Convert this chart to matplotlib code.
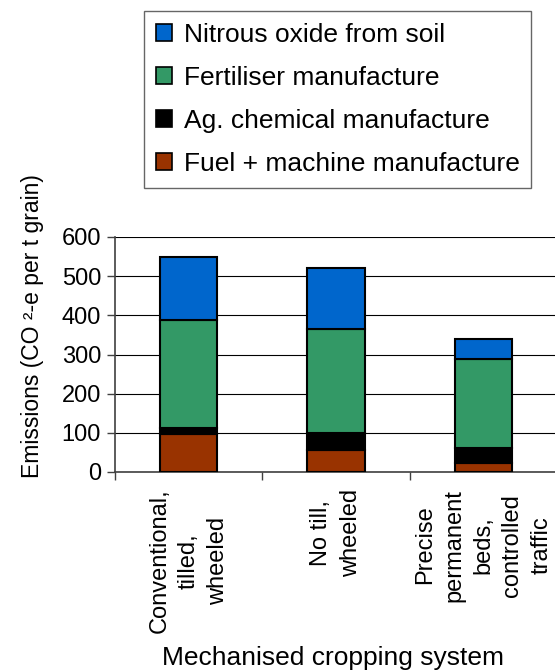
import matplotlib
matplotlib.use("Agg")
import matplotlib.pyplot as plt
from matplotlib.patches import Patch
import numpy as np

plt.rcParams["font.family"] = ["Liberation Sans", "DejaVu Sans"]

# 数据
systems = ["Conventional,\ntilled,\nwheeled",
           "No till,\nwheeled",
           "Precise\npermanent\nbeds,\ncontrolled\ntraffic"]
fuel_machine = [97, 57, 24]
ag_chemical = [15, 43, 37]
fertiliser = [275, 265, 227]
nitrous_oxide = [162, 157, 51]

series_names = ["Fuel + machine manufacture", "Ag. chemical manufacture",
                "Fertiliser manufacture", "Nitrous oxide from soil"]
series_colors = ["#993300", "#000000", "#339966", "#0066CC"]
y_ticks = [0, 100, 200, 300, 400, 500, 600]

fig = plt.figure(figsize=(5.55, 6.7), dpi=100)
W, H = 555, 670
ax = fig.add_axes([115 / W, 1 - 472 / H, 442 / W, 235 / H])

x = np.arange(len(systems))
bottom = np.zeros(len(systems))
for vals, name, col in zip([fuel_machine, ag_chemical, fertiliser, nitrous_oxide],
                           series_names, series_colors):
    ax.bar(x, vals, width=0.39, bottom=bottom, color=col,
           edgecolor="black", linewidth=1.5, label=name, zorder=3)
    bottom += np.array(vals)

ax.set_xlim(-0.5, 2.5)
ax.set_ylim(0, 600)
ax.set_yticks(y_ticks)
ax.tick_params(axis="y", labelsize=17, length=6, width=1, color="#404040", pad=4)
ax.yaxis.grid(True, color="black", linewidth=0.8, zorder=0)
ax.set_axisbelow(True)

ax.set_xticks(x)
ax.set_xticklabels(systems, rotation=90, va="top", ha="center",
                   multialignment="center", linespacing=1.42, fontsize=17)
ax.tick_params(axis="x", length=0, pad=12)
ax.set_xticks([-0.5, 0.5, 1.5], minor=True)
ax.tick_params(axis="x", which="minor", length=6, width=1, color="#404040")

for s in ["top", "right"]:
    ax.spines[s].set_visible(False)
for s in ["left", "bottom"]:
    ax.spines[s].set_color("#404040")
    ax.spines[s].set_linewidth(1.2)

fig.text(33 / W, 1 - 174 / H, "Emissions (CO ²-e per t grain)", rotation=90,
         ha="center", va="top", fontsize=16.5)
fig.text(333 / W, 1 - 665 / H, "Mechanised cropping system",
         ha="center", va="baseline", fontsize=19)

handles = [Patch(facecolor=c, edgecolor="black", linewidth=1.2)
           for c in series_colors][::-1]
leg = fig.legend(handles, series_names[::-1], loc="upper left",
                 bbox_to_anchor=(144 / W, 1 - 11 / H), borderaxespad=0,
                 fontsize=19, frameon=True, fancybox=False,
                 handlelength=0.6, handleheight=0.6, handletextpad=0.45,
                 labelspacing=0.72, borderpad=0.45)
leg.get_frame().set_edgecolor("#404040")
leg.get_frame().set_linewidth(1)

fig.savefig("out.png", dpi=100)
